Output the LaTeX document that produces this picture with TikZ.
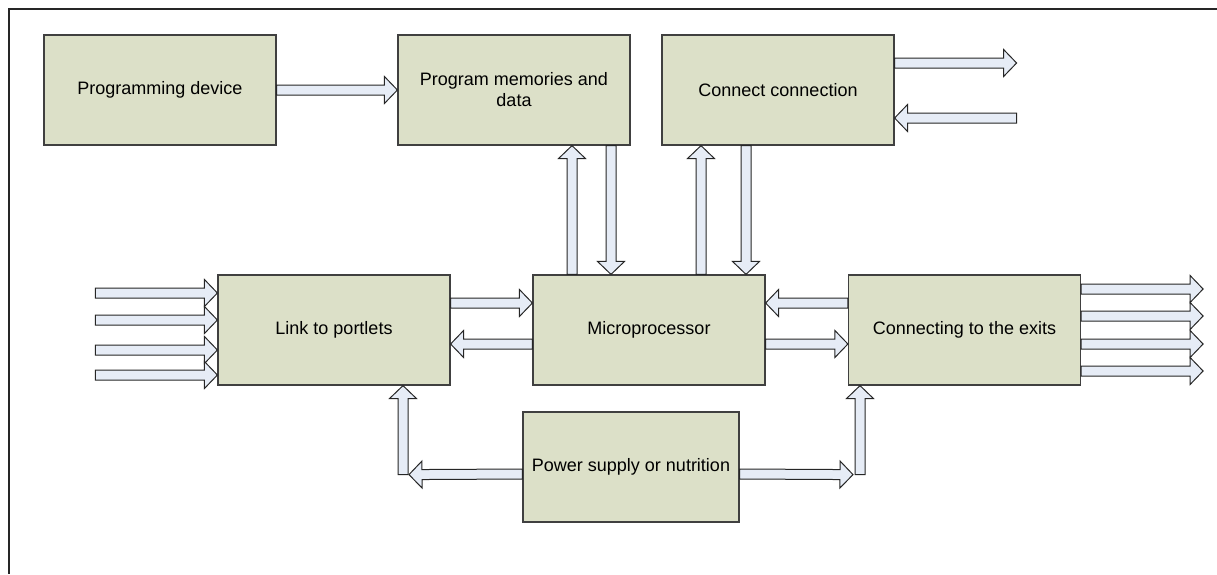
\documentclass[tikz,border=0pt]{standalone}
\usepackage{fontspec}
\setmainfont{Liberation Sans}
\usetikzlibrary{calc}
\definecolor{boxfill}{RGB}{220,224,200}
\definecolor{arrowfill}{RGB}{230,236,246}
\tikzset{
  box/.style={draw=black!75, line width=0.6pt, fill=boxfill, minimum width=116pt,
    minimum height=55pt, inner sep=0pt, align=center, font=\fontsize{9}{10.5}\selectfont},
  barrow/.style={draw=black!85, line width=0.5pt, fill=arrowfill, line join=miter}
}
% block arrow from #1 to #2
\newcommand{\blockarrow}[2]{%
  \coordinate (ba-s) at (#1);
  \coordinate (ba-t) at (#2);
  \coordinate (ba-c) at ($(ba-t)!6.5pt!(ba-s)$);
  \draw[barrow] ($(ba-s)!2.5pt!90:(ba-t)$) -- ($(ba-c)!2.5pt!-90:(ba-s)$)
    -- ($(ba-c)!6.75pt!-90:(ba-s)$) -- (ba-t) -- ($(ba-c)!6.75pt!90:(ba-s)$)
    -- ($(ba-c)!2.5pt!90:(ba-s)$) -- ($(ba-s)!2.5pt!-90:(ba-t)$) -- cycle;}
\begin{document}
\begin{tikzpicture}[x=0.5pt, y=-0.5pt]
\useasboundingbox (0,0) rectangle (1217,574);
\draw[line width=0.9pt, black!85] (1217,9) -- (9,9) -- (9,574);

\node[box] (prog) at (160,90) {Programming device};
\node[box] (mem) at (514,90) {Program memories and\\data};
\node[box] (conn) at (778,90) {Connect connection};
\node[box] (link) at (334,330) {Link to portlets};
\node[box] (micro) at (649,330) {Microprocessor};
\node[box] (exits) at (964.5,330) {Connecting to the exits};
\node[box, minimum width=108pt] (power) at (631,467) {Power supply or nutrition};

\coordinate (connOut) at ($(conn.east)+(122,-27)$);
\coordinate (connIn) at ($(conn.east)+(122,28)$);
\coordinate (pwrL) at ($(link.south)+(69,89)$);
\coordinate (pwrR) at ($(exits.south)+(-104.5,89)$);

\blockarrow{prog.east}{mem.west}
\blockarrow{$(conn.east)+(0,-27)$}{connOut}
\blockarrow{connIn}{$(conn.east)+(0,28)$}

\blockarrow{$(micro.north)+(-77,0)$}{$(mem.south)+(58,0)$}
\blockarrow{$(mem.south)+(97,0)$}{$(micro.north)+(-38,0)$}
\blockarrow{$(micro.north)+(52,0)$}{$(conn.south)+(-77,0)$}
\blockarrow{$(conn.south)+(-32,0)$}{$(micro.north)+(97,0)$}

\blockarrow{$(link.east)+(0,-27)$}{$(micro.west)+(0,-27)$}
\blockarrow{$(micro.west)+(0,14)$}{$(link.east)+(0,14)$}
\blockarrow{$(exits.west)+(0,-27)$}{$(micro.east)+(0,-27)$}
\blockarrow{$(micro.east)+(0,14)$}{$(exits.west)+(0,14)$}

\foreach \dy [count=\i] in {-37,-10,20,45} {
  \coordinate (in\i) at ($(link.west)+(-122,\dy)$);
  \blockarrow{in\i}{$(link.west)+(0,\dy)$}
}
\foreach \dy [count=\i] in {-41,-14,14,41} {
  \coordinate (out\i) at ($(exits.east)+(122,\dy)$);
  \blockarrow{$(exits.east)+(0,\dy)$}{out\i}
}

\blockarrow{$(power.west)+(0,7)$}{$(pwrL)+(6,0)$}
\blockarrow{pwrL}{$(link.south)+(69,0)$}
\blockarrow{$(power.east)+(0,7)$}{$(pwrR)+(-7,0)$}
\blockarrow{pwrR}{$(exits.south)+(-104.5,0)$}
\end{tikzpicture}
\end{document}
